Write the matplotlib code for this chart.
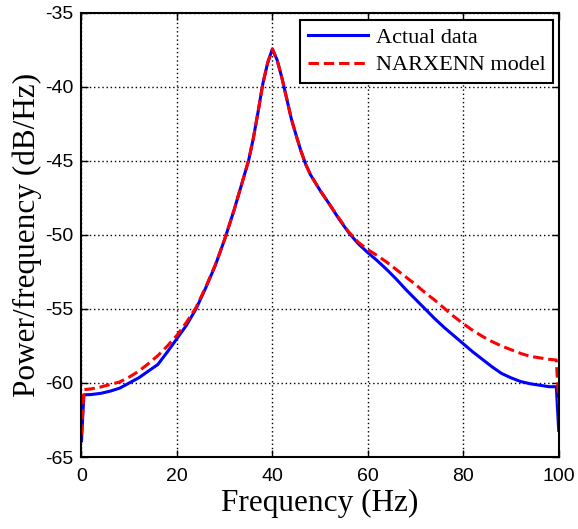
#!/usr/bin/env python3
# -*- coding: utf-8 -*-

import matplotlib as mpl
mpl.use('Agg')
import matplotlib.pyplot as plt

# frequency axis (Hz) and the two power spectral density curves (dB/Hz)
freq = [0, 0.5, 2, 4, 6, 8, 10, 12, 14, 16, 18, 20, 22, 24, 26, 28, 29, 30,
        31, 32, 33, 34, 35, 36, 37, 38, 39, 40, 41, 42, 43, 44, 45, 46, 47,
        48, 50, 52, 54, 56, 58, 60, 62, 64, 66, 68, 70, 72, 74, 76, 78, 80,
        82, 84, 86, 88, 90, 92, 94, 96, 98, 99.5, 100]

actual = [-63.9, -60.8, -60.78, -60.7, -60.55, -60.35, -60.0, -59.65, -59.2,
          -58.75, -57.9, -57.0, -56.1, -55.0, -53.6, -52.1, -51.2, -50.3,
          -49.3, -48.3, -47.2, -46.1, -45.0, -43.5, -41.7, -39.8, -38.4,
          -37.45, -38.2, -39.4, -40.8, -42.2, -43.3, -44.35, -45.25,
          -45.95, -47.0, -47.95, -48.95, -49.85, -50.6, -51.2, -51.75, -52.35,
          -53.0, -53.7, -54.35, -55.0, -55.65, -56.25, -56.8, -57.35,
          -57.9, -58.4, -58.9, -59.35, -59.65, -59.9, -60.05, -60.15, -60.25,
          -60.25, -63.2]

model = [-63.5, -60.45, -60.4, -60.27, -60.1, -59.93, -59.6, -59.2, -58.7,
         -58.15, -57.5, -56.78, -55.9, -54.9, -53.55, -52.05, -51.2, -50.3,
         -49.3, -48.3, -47.2, -46.1, -45.0, -43.5, -41.7, -39.8, -38.4,
         -37.45, -38.2, -39.4, -40.8, -42.2, -43.3, -44.35, -45.25,
         -45.95, -47.0, -47.95, -48.9, -49.8, -50.5, -51.0, -51.4, -51.85,
         -52.35, -52.85, -53.35, -53.9, -54.4, -54.95, -55.5, -56.0,
         -56.45, -56.85, -57.2, -57.5, -57.75, -58.0, -58.2, -58.3, -58.4,
         -58.45, -61.4]

xticks = [0, 20, 40, 60, 80, 100]
yticks = [-65, -60, -55, -50, -45, -40, -35]

mpl.rcParams['lines.scale_dashes'] = False
mpl.rcParams['axes.unicode_minus'] = False

fig = plt.figure(figsize=(5.78, 5.29), dpi=100)
ax = fig.add_axes([0.141, 0.136, 0.8256, 0.840])

ax.plot(freq, actual, color='#0000ff', lw=2.2, label='Actual data')
ax.plot(freq, model, color='#ff0000', lw=2.2, dashes=(7.5, 3.5),
        label='NARXENN model')

ax.set_xlim(0, 100)
ax.set_ylim(-65, -35)
ax.set_xticks(xticks)
ax.set_yticks(yticks)

ax.grid(True, color='black', linestyle=(0, (1, 2)), linewidth=1)
for s in ax.spines.values():
    s.set_linewidth(1.5)
ax.tick_params(direction='in', length=5, width=1, top=True, right=True,
               labelsize=14, pad=6)
for lab in ax.get_xticklabels() + ax.get_yticklabels():
    lab.set_family('Liberation Sans')
ax.tick_params(axis='x', pad=8)

ax.set_xlabel('Frequency (Hz)', family='Liberation Serif', fontsize=22.5,
              labelpad=3)
ax.set_ylabel('Power/frequency (dB/Hz)', family='Liberation Serif',
              fontsize=22.5, labelpad=2)

leg = ax.legend(loc='upper right', bbox_to_anchor=(0.989, 0.984),
                borderaxespad=0, fancybox=False, framealpha=1,
                edgecolor='black', handlelength=2.7, handletextpad=0.35,
                labelspacing=0.3, borderpad=0.35,
                prop={'family': 'Liberation Serif', 'size': 16})
leg.get_frame().set_linewidth(1.5)

fig.savefig('out.png', dpi=100)
